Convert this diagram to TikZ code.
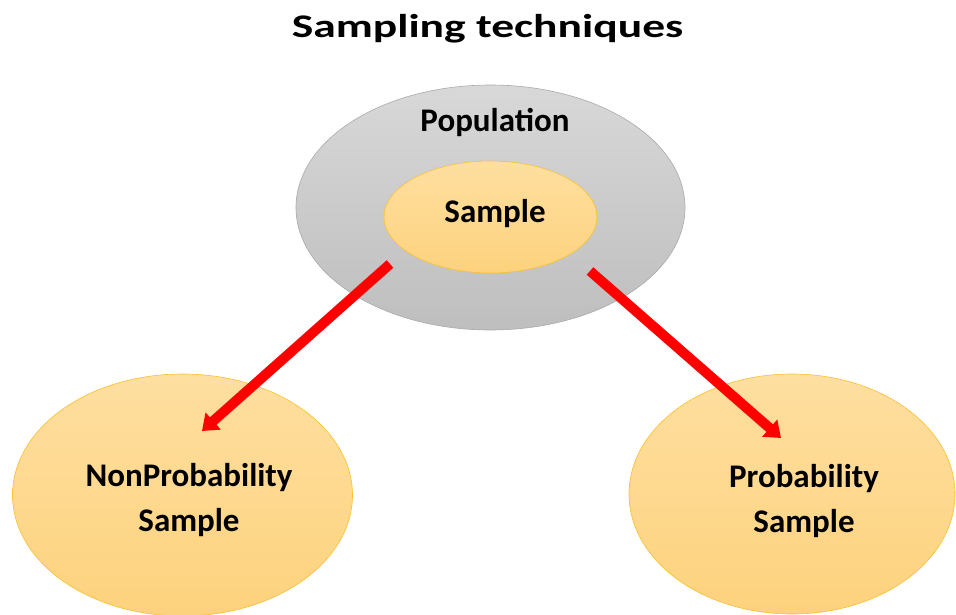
\documentclass[tikz,border=0pt]{standalone}
\usepackage{fontspec}
\setmainfont{Carlito}
\usepackage{graphicx}
\usepackage{xcolor}
\usepackage{tikz}
\usetikzlibrary{shapes.geometric,arrows.meta,positioning,calc}

\definecolor{poptop}{RGB}{216,216,216}
\definecolor{popbot}{RGB}{190,190,190}
\definecolor{popline}{RGB}{170,170,170}
\definecolor{goldtop}{RGB}{254,223,160}
\definecolor{goldbot}{RGB}{253,210,125}
\definecolor{goldline}{RGB}{250,192,50}

\begin{document}
\begin{tikzpicture}[
  x=1pt, y=-1pt,
  lbl/.style={
    font=\fontsize{33}{45}\selectfont\bfseries,
    inner sep=0pt, align=center
  },
  popblob/.style={
    ellipse, draw=popline, line width=0.6pt,
    top color=poptop, bottom color=popbot, inner sep=0pt
  },
  bubble/.style={
    ellipse, draw=goldline, line width=0.6pt,
    top color=goldtop, bottom color=goldbot, inner sep=0pt
  },
  arr/.style={-{Triangle[width=22pt,length=15pt]}, line width=10pt, red}
]
\useasboundingbox (0,0) rectangle (956,615);

% Title
\node[lbl, anchor=base] (title) at (487.5,38)
  {\scalebox{1.38}[1]{Sampling techniques}};

% Population with the sample inside it
\node[popblob, minimum width=389pt, minimum height=245pt] (pop) at (490.5,207.5) {};
\node[lbl, anchor=base] (poplabel) at (495,132) {Population};
\node[bubble, minimum width=213pt, minimum height=112pt] (sample) at (490.5,217) {};
\node[lbl, anchor=base] (samplelabel) at (495,222) {Sample};

% The two kinds of sample
\node[bubble, minimum width=340pt, minimum height=242pt] (nonprob) at (182.5,495) {};
\node[lbl] (nonproblabel) at (189,500) {NonProbability\\Sample};
\node[bubble, minimum width=326pt, minimum height=240pt] (prob) at (792,494) {};
\node[lbl] (problabel) at (804,501) {Probability\\Sample};

% Arrows out of the sample
\coordinate (nonprob tail) at ($(sample)+(-100.5,47)$);
\coordinate (nonprob tip) at ($(nonprob)+(19.5,-64)$);
\coordinate (prob tail) at ($(sample)+(99.5,54)$);
\coordinate (prob tip) at ($(prob)+(-11,-56)$);
\draw[arr] (nonprob tail) -- (nonprob tip);
\draw[arr] (prob tail) -- (prob tip);

\end{tikzpicture}
\end{document}
